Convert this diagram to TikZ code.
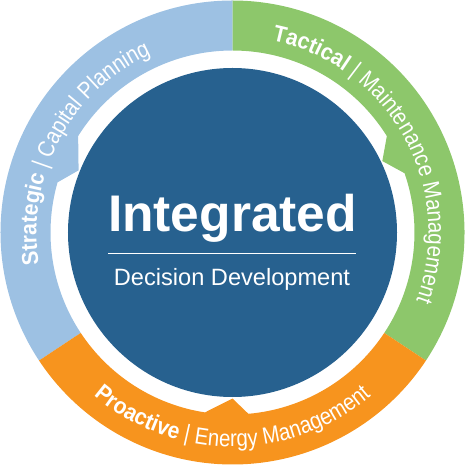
\documentclass[tikz,border=0pt]{standalone}
\usepackage{fontspec}
\setmainfont{Liberation Sans}
\newfontfamily\ringfont[FakeStretch=0.87]{Liberation Sans}
\newfontfamily\ringboldfont[FakeStretch=0.92]{Liberation Sans}
\usetikzlibrary{decorations.text}

\definecolor{stratblue}{HTML}{9DC1E3}
\definecolor{tactgreen}{HTML}{8DC76B}
\definecolor{proorange}{HTML}{F7941E}
\definecolor{coreblue}{HTML}{27618F}

\newcommand\ringbold{\ringboldfont\fontsize{23}{27}\selectfont\bfseries}
\newcommand\ringthin{\ringfont\fontsize{23.5}{27}\selectfont\mdseries}

\begin{document}
\begin{tikzpicture}[
    ringtext/.style={decorate, decoration={text along path, text align=center,
      text color=white, text format delimiters={[}{]}, text={#1}}}
  ]
  \useasboundingbox (-232.5pt,-232.5pt) rectangle (232.5pt,232.5pt);

  % Anello
  \fill[stratblue] (90:232pt) arc[start angle=90, end angle=213.5, radius=232pt]
    -- (213.5:182pt) arc[start angle=213.5, end angle=164, radius=182pt]
    -- (158:166pt) -- (148:182pt) arc[start angle=148, end angle=90, radius=182pt] -- cycle;
  \fill[tactgreen] (-33.5:232pt) arc[start angle=-33.5, end angle=90, radius=232pt]
    -- (90:182pt) arc[start angle=90, end angle=32, radius=182pt]
    -- (25.5:166pt) -- (19:182pt) arc[start angle=19, end angle=-33.5, radius=182pt] -- cycle;
  \fill[proorange] (213.5:232pt) arc[start angle=213.5, end angle=326.5, radius=232pt]
    -- (-33.5:182pt) arc[start angle=-33.5, end angle=-85, radius=182pt]
    -- (-90:166pt) -- (-98.7:182pt) arc[start angle=-98.7, end angle=-146.5, radius=182pt] -- cycle;

  % Cerchio centrale
  \node[circle, fill=coreblue, minimum size=329pt, inner sep=0pt] (core) at (0pt,0pt) {};
  \node[anchor=base, text=white, font=\fontsize{51.5}{60}\selectfont\bfseries] (title) at (0pt,1pt) {Integrated};
  \coordinate (ruleL) at (-124pt,-20.5pt);
  \coordinate (ruleR) at (123pt,-20.5pt);
  \draw[white, line width=0.8pt] (ruleL) -- (ruleR);
  \node[anchor=base, text=white, font=\fontsize{23.6}{28}\selectfont] (subtitle) at (-0.5pt,-53.5pt) {Decision Development};

  % Testi
  \path[ringtext={[\ringbold]Strategic [\ringthin]| Capital Planning}]
    (212:196pt) arc[start angle=212, end angle=92, radius=196pt];
  \path[ringtext={[\ringbold]Tactical [\ringthin]| Maintenance Management}]
    (89:196pt) arc[start angle=89, end angle=-31, radius=196pt];
  \path[ringtext={[\ringbold]Proactive [\ringthin]| Energy Management}]
    (-150:214pt) arc[start angle=-150, end angle=-30, radius=214pt];
\end{tikzpicture}
\end{document}
